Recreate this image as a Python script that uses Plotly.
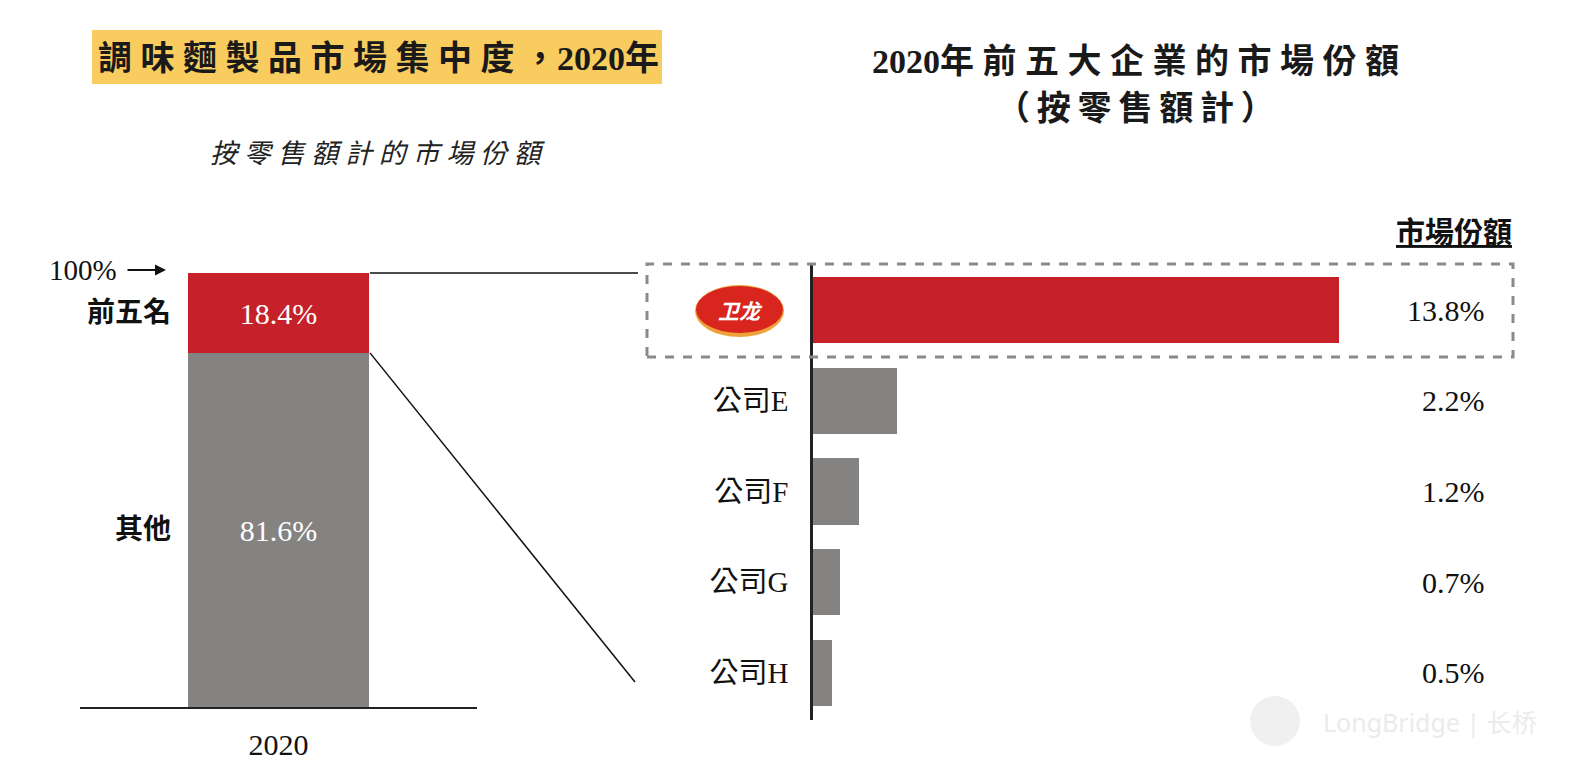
import plotly.graph_objects as go

W, H = 1574, 768
def px(x): return x / W
def py(y): return 1 - y / H

# ---- data ----
left_year = ["2020"]
seg_names = ["其他", "前五名"]
seg_values = [81.6, 18.4]
seg_colors = ["#858382", "#c6212a"]

companies = ["卫龙", "公司E", "公司F", "公司G", "公司H"]
shares = [13.8, 2.2, 1.2, 0.7, 0.5]
comp_colors = ["#c6212a", "#858382", "#858382", "#858382", "#858382"]
share_labels = ["13.8%", "2.2%", "1.2%", "0.7%", "0.5%"]

SERIF = "Liberation Serif, Noto Sans CJK TC, serif"
sp = "\u2005"
thin = "\u2009"
def spaced(s, g=sp): return g.join(list(s))

fig = go.Figure()

# left stacked bar
for name, v, c in zip(seg_names, seg_values, seg_colors):
    fig.add_trace(go.Bar(
        x=left_year, y=[v], name=name, marker=dict(color=c, line=dict(width=0)),
        width=0.458, text=[f"{v}%"], textposition="inside", insidetextanchor="middle",
        textfont=dict(color="white", size=30, family=SERIF), xaxis="x", yaxis="y",
        showlegend=False, hoverinfo="skip"))

# right horizontal bars
fig.add_trace(go.Bar(
    x=shares, y=companies, orientation="h", marker=dict(color=comp_colors, line=dict(width=0)),
    width=0.733, xaxis="x2", yaxis="y2", showlegend=False, hoverinfo="skip"))

LX0, LX1, LY0, LY1 = 80, 477, 707, 273
RX0, RX1, RY0, RY1 = 813, 1505, 720, 263
ppu = 38.1
fig.update_layout(
    width=W, height=H, margin=dict(l=0, r=0, t=0, b=0),
    paper_bgcolor="white", plot_bgcolor="white", barmode="stack", bargap=0,
    xaxis=dict(domain=[px(LX0), px(LX1)], range=[-0.5, 0.5], type="category",
               showline=True, linecolor="#222", linewidth=1.5, showgrid=False,
               ticks="outside", ticklen=10, tickcolor="rgba(0,0,0,0)",
               tickfont=dict(size=30, family=SERIF, color="#111")),
    yaxis=dict(domain=[py(LY0), py(LY1)], range=[0, 100], visible=False),
    xaxis2=dict(domain=[px(RX0), px(RX1)], range=[0, (RX1 - RX0) / ppu], visible=False, anchor="y2"),
    yaxis2=dict(domain=[py(RY0), py(RY1)], range=[4.52, -0.52], anchor="x2",
                type="category", showline=True, linecolor="#222", linewidth=2.5,
                showgrid=False, ticks="outside", ticklen=16, tickcolor="rgba(0,0,0,0)",
                tickvals=companies, ticktext=[""] + companies[1:],
                tickfont=dict(size=29, family=SERIF, color="#111")),
)

shapes = []
ann = []

def A(**kw):
    d = dict(xref="paper", yref="paper", showarrow=False, xanchor="center", yanchor="middle")
    d.update(kw)
    ann.append(d)

# title left with yellow box
shapes.append(dict(type="rect", xref="paper", yref="paper", x0=px(92), x1=px(662),
                   y0=py(84), y1=py(30), fillcolor="#f8cc5f", line=dict(width=0), layer="below"))
A(x=px(378), y=py(58), text="<b>" + spaced("調味麵製品市場集中度，") + "2020年</b>",
  font=dict(size=34, family=SERIF, color="#1a1a1a"))
A(x=px(378), y=py(154), text="<i>" + spaced("按零售額計的市場份額") + "</i>",
  font=dict(size=27, family=SERIF, color="#222"))

# right title
A(x=px(1135), y=py(62), text="<b>2020年" + sp + spaced("前五大企業的市場份額") + "</b>",
  font=dict(size=34, family=SERIF, color="#1a1a1a"))
A(x=px(1135), y=py(108), text="<b>" + spaced("（按零售額計）", thin) + "</b>",
  font=dict(size=34, family=SERIF, color="#1a1a1a"))

# column header
A(x=px(1514), y=py(233), xanchor="right", text="<b><u>市場份額</u></b>",
  font=dict(size=29, family=SERIF, color="#111"))

# share labels
for c, lab in zip(companies, share_labels):
    A(x=px(1487), y=c, yref="y2", xanchor="right", text=lab,
      font=dict(size=30, family=SERIF, color="#111"))

# left labels
def ly(v): return py(LY0) + v / 100 * (py(LY1) - py(LY0))
cum = 0
seg_mid = []
for v in seg_values:
    seg_mid.append(cum + v / 2)
    cum += v
for name, m in zip(seg_names, seg_mid):
    A(x=px(173), y=ly(m), xanchor="right", text="<b>" + name + "</b>",
      font=dict(size=28, family=SERIF, color="#111"))
A(x=px(47), y=ly(100) + 0.004, xanchor="left", text="100%",
  font=dict(size=29, family=SERIF, color="#111"))
ann.append(dict(x=px(166), y=ly(100) + 0.004, ax=-40, ay=0, xref="paper", yref="paper",
                axref="pixel", ayref="pixel", showarrow=True, arrowhead=2, arrowsize=1.1,
                arrowwidth=2, arrowcolor="#111", text=""))

# connector lines
bar_right = 370
shapes.append(dict(type="line", xref="paper", yref="paper", x0=px(bar_right), x1=px(638),
                   y0=ly(100), y1=ly(100), line=dict(color="#111", width=1.5)))
shapes.append(dict(type="line", xref="paper", yref="paper", x0=px(bar_right), x1=px(635),
                   y0=ly(seg_values[0]), y1=py(682), line=dict(color="#111", width=1.5)))

# dashed highlight box
shapes.append(dict(type="rect", xref="paper", yref="paper", x0=px(647), x1=px(1513),
                   y0=py(357), y1=py(264), line=dict(color="#8a8a8a", width=3, dash="dash"),
                   fillcolor="rgba(0,0,0,0)"))

# logo
shapes.append(dict(type="circle", xref="paper", yref="paper", x0=px(695), x1=px(784),
                   y0=py(337), y1=py(285), fillcolor="#efa23a", line=dict(width=0)))
shapes.append(dict(type="circle", xref="paper", yref="paper", x0=px(696), x1=px(783),
                   y0=py(333), y1=py(286), fillcolor="#d8261f", line=dict(width=0)))
A(x=px(740), y=py(310), text="<b><i>卫龙</i></b>",
  font=dict(size=21, family="Noto Sans CJK SC", color="white"))

# watermark
A(x=px(1321), y=py(722), xanchor="left", text="LongBridge | 长桥",
  font=dict(size=25, family="Noto Sans, Noto Sans CJK SC", color="#ebebeb"))
shapes.append(dict(type="circle", xref="paper", yref="paper", x0=px(1250), x1=px(1300),
                   y0=py(746), y1=py(696), fillcolor="#f0f0f0", line=dict(width=0), layer="below"))

fig.update_layout(shapes=shapes, annotations=ann)
fig.write_html("out.html")
